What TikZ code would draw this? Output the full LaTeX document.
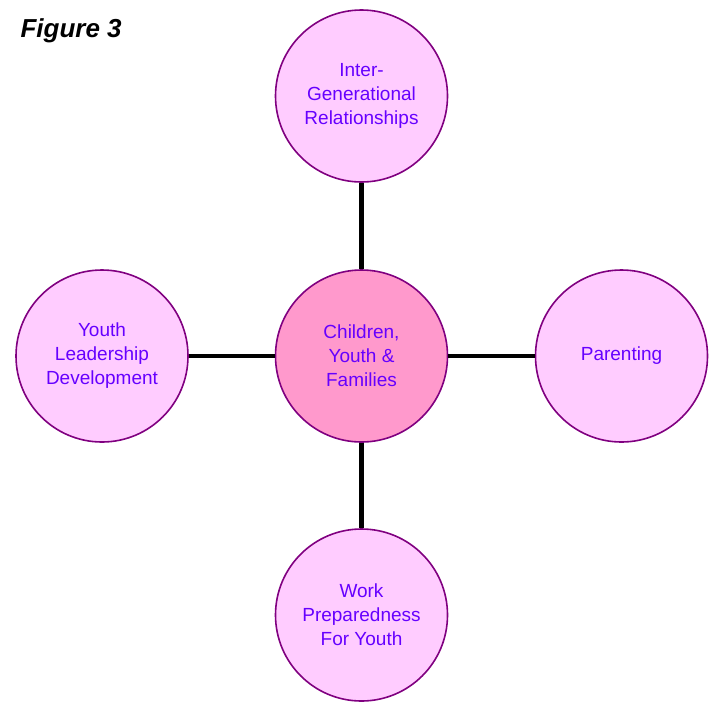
\documentclass[tikz,border=0pt]{standalone}
\usepackage{fontspec}
\setmainfont{Liberation Sans}
\definecolor{outerfill}{HTML}{FFCCFF}
\definecolor{centerfill}{HTML}{FF99CC}
\definecolor{rim}{HTML}{800080}
\definecolor{txt}{HTML}{6600FF}
\begin{document}
\begin{tikzpicture}[x=1pt,y=-1pt,
  topic/.style={circle,draw=rim,line width=1.6pt,fill=outerfill,minimum size=172pt,inner sep=0pt,
    text=txt,align=center,font=\fontsize{19}{24}\selectfont},
  hub/.style={topic,fill=centerfill},
  link/.style={line width=4.5pt,black}]
\useasboundingbox (0,0) rectangle (714,702);
\node[anchor=base west,font=\fontsize{26}{30}\selectfont\bfseries\itshape] (title) at (17,37) {Figure 3};
\node[hub] (c) at (361.5,356) {Children,\\Youth \&\\Families};
\node[topic] (t) at (361.5,96) {Inter-\\Generational\\Relationships};
\node[topic] (r) at (621.5,356) {Parenting};
\node[topic] (l) at (102,356) {Youth\\Leadership\\Development};
\node[topic] (b) at (361.5,615) {Work\\Preparedness\\For Youth};
\draw[link] (c) -- (t);
\draw[link] (c) -- (r);
\draw[link] (c) -- (l);
\draw[link] (c) -- (b);
\end{tikzpicture}
\end{document}
